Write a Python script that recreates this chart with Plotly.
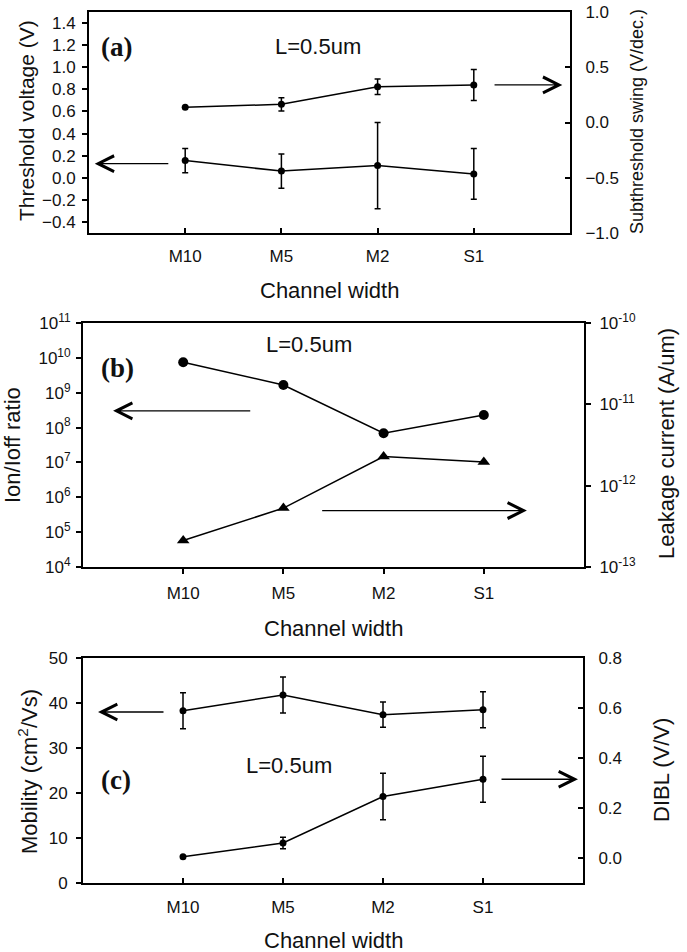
import plotly.graph_objects as go

W, H = 687, 952

categories = ["M10", "M5", "M2", "S1"]

# Panel (a): threshold voltage (left) and subthreshold swing (right)
vth = [0.155, 0.06, 0.11, 0.035]
vth_err = [0.11, 0.155, 0.39, 0.23]
ss = [0.137, 0.165, 0.324, 0.339]
ss_err = [0.0, 0.06, 0.07, 0.14]

# Panel (b): Ion/Ioff ratio (left) and leakage current (right)
ratio = [7.5e9, 1.67e9, 6.9e7, 2.3e8]
leak = [2.12e-13, 5.3e-13, 2.28e-12, 1.95e-12]

# Panel (c): mobility (left) and DIBL (right)
mob = [38.3, 41.8, 37.4, 38.5]
mob_err = [4.0, 4.0, 2.8, 4.0]
dibl = [0.005, 0.06, 0.246, 0.315]
dibl_err = [0.0, 0.023, 0.093, 0.092]

# tick values
a_left_ticks = [-0.4, -0.2, 0.0, 0.2, 0.4, 0.6, 0.8, 1.0, 1.2, 1.4]
a_right_ticks = [-1.0, -0.5, 0.0, 0.5, 1.0]
b_left_exp = [4, 5, 6, 7, 8, 9, 10, 11]
b_right_exp = [-13, -12, -11, -10]
c_left_ticks = [0, 10, 20, 30, 40, 50]
c_right_ticks = [0.0, 0.2, 0.4, 0.6, 0.8]

FONT = "Arial, Liberation Sans, sans-serif"
TICKFONT = dict(family=FONT, size=17, color="#111")


def px(x):
    return x / W


def py(y):
    return 1 - y / H


def xdom(l, r):
    return [px(l), px(r)]


def ydom(t, b):
    return [py(b), py(t)]


fig = go.Figure()

line = dict(color="black", width=1.5)


def err(arr):
    return dict(type="data", array=arr, color="black", thickness=1.5, width=3, visible=True)


fig.add_trace(go.Scatter(x=categories, y=vth, error_y=err(vth_err), mode="lines+markers",
                         line=line, marker=dict(symbol="circle", size=7, color="black"),
                         xaxis="x", yaxis="y", showlegend=False))
fig.add_trace(go.Scatter(x=categories, y=ss, error_y=err(ss_err), mode="lines+markers",
                         line=line, marker=dict(symbol="circle", size=7, color="black"),
                         xaxis="x", yaxis="y2", showlegend=False))
fig.add_trace(go.Scatter(x=categories, y=ratio, mode="lines+markers",
                         line=line, marker=dict(symbol="circle", size=10, color="black"),
                         xaxis="x2", yaxis="y3", showlegend=False))
fig.add_trace(go.Scatter(x=categories, y=leak, mode="lines+markers",
                         line=line, marker=dict(symbol="triangle-up", size=11, color="black"),
                         xaxis="x2", yaxis="y4", showlegend=False))
fig.add_trace(go.Scatter(x=categories, y=mob, error_y=err(mob_err), mode="lines+markers",
                         line=line, marker=dict(symbol="circle", size=7, color="black"),
                         xaxis="x3", yaxis="y5", showlegend=False))
fig.add_trace(go.Scatter(x=categories, y=dibl, error_y=err(dibl_err), mode="lines+markers",
                         line=line, marker=dict(symbol="circle", size=7, color="black"),
                         xaxis="x3", yaxis="y6", showlegend=False))

common = dict(showline=True, linecolor="black", linewidth=2, showgrid=False, zeroline=False,
              tickcolor="black", tickwidth=1.5, ticklen=5, tickfont=TICKFONT, automargin=False)


def xax(dom, anchor, ticks, standoff):
    return dict(common, type="category", range=[-1, 4], domain=dom, anchor=anchor,
                mirror=True, ticks=ticks, categoryorder="array", categoryarray=categories,
                ticklabelstandoff=standoff)


layout = dict(
    template="none",
    width=W, height=H,
    margin=dict(l=0, r=0, t=0, b=0, pad=0, autoexpand=False),
    paper_bgcolor="white", plot_bgcolor="white",
    showlegend=False,
    xaxis=xax(xdom(89, 570), "y", "inside", 7),
    xaxis2=xax(xdom(83, 584), "y3", "outside", 5),
    xaxis3=xax(xdom(83, 583), "y5", "inside", 8),
    yaxis=dict(common, domain=ydom(12, 233), anchor="x", range=[-0.5, 1.5],
               tickvals=a_left_ticks, tickformat=".1f", ticks="outside", ticklabelstandoff=3),
    yaxis2=dict(common, overlaying="y", side="right", anchor="x", range=[-1.0, 1.0],
                tickvals=a_right_ticks, tickformat=".1f", ticks="inside", ticklabelstandoff=10),
    yaxis3=dict(common, domain=ydom(323, 567), anchor="x2", type="log", range=[4, 11],
                tickvals=[10 ** e for e in b_left_exp],
                ticktext=["10<sup>%d</sup>" % e for e in b_left_exp],
                ticks="outside", ticklabelstandoff=2),
    yaxis4=dict(common, overlaying="y3", side="right", anchor="x2", type="log", range=[-13, -10],
                tickvals=[10.0 ** e for e in b_right_exp],
                ticktext=["10<sup>%d</sup>" % e for e in b_right_exp],
                ticks="outside", ticklabelstandoff=5),
    yaxis5=dict(common, domain=ydom(658, 883), anchor="x3", range=[0, 50],
                tickvals=c_left_ticks, ticks="outside", ticklabelstandoff=5),
    yaxis6=dict(common, overlaying="y5", side="right", anchor="x3", range=[-0.1, 0.8],
                tickvals=c_right_ticks, tickformat=".1f", ticks="inside", ticklabelstandoff=10),
)

ann = []


def paper_text(x, y, text, size=22, angle=0, family=FONT, bold=False):
    t = "<b>%s</b>" % text if bold else text
    ann.append(dict(xref="paper", yref="paper", x=px(x), y=py(y), text=t, showarrow=False,
                    textangle=angle, xanchor="center", yanchor="middle",
                    font=dict(family=family, size=size, color="#111")))


# axis titles
paper_text(329.5, 290, "Channel width")
paper_text(333.5, 628, "Channel width")
paper_text(333, 940, "Channel width")
paper_text(26, 121, "Threshold voltage (V)", size=21, angle=-90)
paper_text(637, 122, "Subthreshold swing (V/dec.)", size=18, angle=-90)
paper_text(12, 445, "Ion/Ioff ratio", angle=-90)
paper_text(666, 444, "Leakage current (A/um)", angle=-90)
paper_text(28, 772, "Mobility (cm<sup>2</sup>/Vs)", angle=-90)
paper_text(661, 770, "DIBL (V/V)", angle=-90)

# in-plot labels
SERIF = "Liberation Serif, Times New Roman, serif"
paper_text(116.5, 47, "(a)", size=27, family=SERIF, bold=True)
paper_text(117.5, 368, "(b)", size=27, family=SERIF, bold=True)
paper_text(116, 780, "(c)", size=27, family=SERIF, bold=True)
paper_text(317.5, 46, "L=0.5um")
paper_text(309, 344, "L=0.5um")
paper_text(288.5, 765, "L=0.5um")


def arrow(xr, yr, x_head, x_tail, y):
    ann.append(dict(xref=xr, yref=yr, axref=xr, ayref=yr, x=x_head, y=y, ax=x_tail, ay=y,
                    text="", showarrow=True, arrowhead=5, arrowsize=2.4, arrowwidth=1.3,
                    arrowcolor="black"))


arrow("x", "y", -0.94, -0.16, 0.127)
arrow("x", "y2", 3.92, 3.20, 0.34)
arrow("x2", "y3", -0.70, 0.684, 8.48)
arrow("x2", "y4", 3.43, 1.372, -12.306)
arrow("x3", "y5", -0.85, -0.18, 38.0)
arrow("x3", "y6", 3.95, 3.17, 0.315)

layout["annotations"] = ann
fig.update_layout(**layout)
fig.write_html("out.html", config={"displayModeBar": False},
               post_script="document.body.style.margin='0px';")
